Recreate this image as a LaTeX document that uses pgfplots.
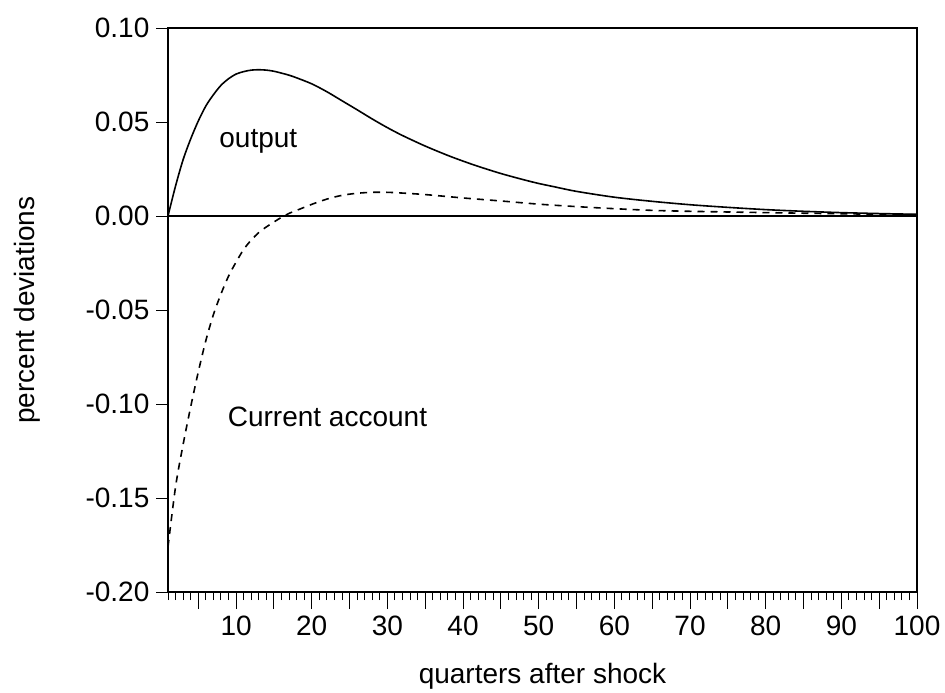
\documentclass[border=0pt]{standalone}
\usepackage{fontspec}
\setmainfont{Liberation Sans}
\usepackage{pgfplots}
\pgfplotsset{compat=1.18}
\begin{document}
\begin{tikzpicture}
\useasboundingbox (-84pt,-50pt) rectangle (388.5pt,296pt);
\begin{axis}[
  at={(0pt,0pt)}, anchor=south west,
  width=374.5pt, height=282pt, scale only axis,
  xmin=1, xmax=100, ymin=-0.2, ymax=0.1,
  xtick=\empty,
  ytick={-0.2,-0.15,-0.1,-0.05,0,0.05,0.1},
  yticklabels={-0.20,-0.15,-0.10,-0.05,0.00,0.05,0.10},
  ytick pos=left, tick align=outside,
  major tick length=5.8pt,
  axis line style={line width=0.75pt},
  every tick/.style={black, line width=0.5pt},
  tick label style={font=\fontsize{14}{16}\selectfont},
  /pgf/number format/assume math mode=true,
  ylabel={percent deviations},
  every axis y label/.style={at={(axis description cs:-0.188,0.5)}, rotate=90, anchor=center, font=\fontsize{14}{16}\selectfont},
]
\addplot[black, line width=0.55pt] coordinates {(1,0) (100,0)};
\addplot[black, line width=0.8pt, smooth] coordinates {
(1,0) (2,0.016) (3,0.030) (4,0.041) (5,0.0505) (6,0.0585) (7,0.0645) (8,0.0695)
(9,0.0730) (10,0.0755) (11,0.0768) (12,0.0776) (13,0.0778) (14,0.0776) (15,0.0770)
(16,0.0760) (17,0.0749) (18,0.0735) (20,0.0703) (22,0.0661) (24,0.0613) (26,0.0565)
(28,0.0516) (30,0.0470) (32,0.0428) (35,0.0372) (38,0.0322) (40,0.0292) (42,0.0264)
(45,0.0226) (48,0.0193) (50,0.0173) (52,0.0156) (55,0.0131) (60,0.0100) (65,0.0078)
(70,0.0060) (75,0.0046) (80,0.0034) (85,0.0025) (90,0.0018) (95,0.0013) (100,0.0009)};
\addplot[black, line width=0.8pt, dash pattern=on 3.5pt off 3pt, smooth] coordinates {
(1,-0.176) (2,-0.144) (3,-0.1215) (4,-0.1015) (5,-0.083) (6,-0.0663) (7,-0.0525)
(8,-0.0415) (9,-0.032) (10,-0.0245) (11,-0.0178) (12,-0.0128) (13,-0.0088) (14,-0.0058)
(15,-0.0032) (16,-0.0007) (17,0.0014) (18,0.003) (19,0.0046) (20,0.0062) (22,0.0090)
(24,0.0110) (26,0.0121) (28,0.0126) (30,0.0126) (32,0.0122) (35,0.0114) (40,0.0096)
(45,0.0080) (50,0.0063) (55,0.0050) (60,0.0039) (65,0.0030) (70,0.0025) (80,0.0018)
(90,0.0012) (100,0.0007)};
\node[anchor=base, font=\fontsize{14}{16}\selectfont] at (axis cs:12.94,0.0363) {output};
\node[anchor=base, font=\fontsize{14}{16}\selectfont] at (axis cs:22.08,-0.1121) {Current account};
\end{axis}
\begin{axis}[
  at={(0pt,0pt)}, anchor=south west,
  width=374.5pt, height=282pt, scale only axis,
  xmin=1, xmax=100, ymin=-0.2, ymax=0.1,
  ytick=\empty,
  xtick={5,10,...,100},
  xticklabels={,10,,20,,30,,40,,50,,60,,70,,80,,90,,100},
  minor xtick={1,2,...,100},
  xtick pos=bottom, tick align=outside,
  major tick length=8.5pt, minor tick length=4pt,
  axis line style={line width=0.75pt},
  every tick/.style={black, line width=0.5pt},
  tick label style={font=\fontsize{14}{16}\selectfont},
  /pgf/number format/assume math mode=true,
  xlabel={quarters after shock},
  every axis x label/.style={at={(axis description cs:0.5,-0.149)}, anchor=center, font=\fontsize{14}{16}\selectfont},
]
\end{axis}
\end{tikzpicture}
\end{document}
